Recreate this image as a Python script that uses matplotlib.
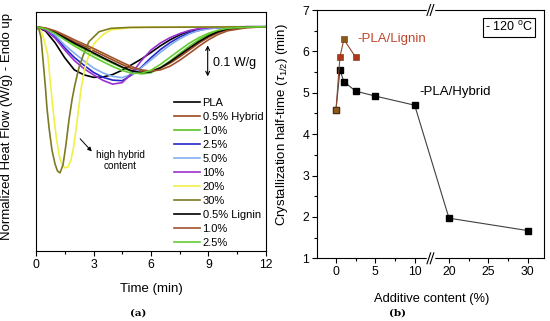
import numpy as np
import matplotlib.pyplot as plt

plt.rcParams['font.family'] = ['Liberation Sans', 'DejaVu Sans']
plt.rcParams['mathtext.fontset'] = 'custom'
plt.rcParams['mathtext.rm'] = 'Liberation Sans'
plt.rcParams['mathtext.it'] = 'Liberation Sans:italic'

# ---- (a) isothermal crystallization curves, W/g relative to baseline
t_grid = [0, 0.5, 1, 1.5, 2, 2.5, 3, 3.5, 4, 4.5, 5, 5.5, 6, 6.5, 7, 7.5, 8, 8.5, 9, 9.5, 10, 11, 12]

hf_pla = [0, -0.014, -0.052, -0.100, -0.139, -0.155, -0.163, -0.162, -0.154, -0.140, -0.122, -0.104,
          -0.083, -0.061, -0.042, -0.026, -0.014, -0.008, -0.004, -0.002, -0.001, 0, 0]
hf_h05 = [0, -0.005, -0.016, -0.032, -0.048, -0.062, -0.077, -0.092, -0.107, -0.122, -0.135, -0.143,
          -0.143, -0.133, -0.117, -0.097, -0.075, -0.053, -0.034, -0.019, -0.009, -0.002, 0]
hf_h10 = [0, -0.006, -0.020, -0.038, -0.056, -0.072, -0.088, -0.103, -0.118, -0.132, -0.145, -0.152,
          -0.148, -0.132, -0.110, -0.086, -0.063, -0.042, -0.025, -0.013, -0.006, -0.001, 0]
hf_h25 = [0, -0.009, -0.031, -0.068, -0.099, -0.124, -0.147, -0.163, -0.172, -0.174, -0.155, -0.130,
          -0.100, -0.073, -0.051, -0.033, -0.019, -0.012, -0.005, -0.003, -0.002, 0, 0]
hf_h50 = [0, -0.007, -0.027, -0.059, -0.085, -0.110, -0.133, -0.149, -0.160, -0.164, -0.153, -0.132,
          -0.107, -0.082, -0.059, -0.039, -0.023, -0.012, -0.007, -0.003, -0.001, 0, 0]
hf_h100 = [0, -0.011, -0.037, -0.075, -0.109, -0.135, -0.155, -0.173, -0.185, -0.180, -0.150, -0.109,
           -0.075, -0.052, -0.035, -0.022, -0.012, -0.006, -0.003, -0.001, 0, 0, 0]
hf_l05 = [0, -0.006, -0.019, -0.036, -0.053, -0.068, -0.084, -0.100, -0.115, -0.130, -0.142, -0.148,
          -0.145, -0.132, -0.113, -0.091, -0.069, -0.048, -0.030, -0.016, -0.007, -0.001, 0]
hf_l10 = [0, -0.004, -0.013, -0.027, -0.042, -0.056, -0.070, -0.085, -0.100, -0.115, -0.129, -0.139,
          -0.143, -0.139, -0.127, -0.108, -0.086, -0.063, -0.042, -0.025, -0.013, -0.003, 0]
hf_l25 = [0, -0.007, -0.022, -0.042, -0.062, -0.080, -0.097, -0.113, -0.128, -0.141, -0.150, -0.150,
          -0.140, -0.121, -0.098, -0.075, -0.053, -0.035, -0.021, -0.011, -0.005, -0.001, 0]

# fast curves (high hybrid content), own time points
t_h200 = [0, 0.26, 0.42, 0.61, 0.78, 0.89, 1.04, 1.20, 1.36, 1.51, 1.67, 1.83, 1.98, 2.14, 2.35,
          2.53, 2.70, 3.03, 3.48, 3.91, 4.90, 5.95, 12]
hf_h200 = [0, -0.013, -0.042, -0.090, -0.200, -0.268, -0.348, -0.413, -0.445, -0.455, -0.452, -0.429,
           -0.381, -0.306, -0.200, -0.139, -0.102, -0.054, -0.026, -0.010, -0.003, -0.001, 0]
t_h300 = [0, 0.16, 0.26, 0.34, 0.42, 0.50, 0.57, 0.68, 0.83, 0.99, 1.12, 1.25, 1.41, 1.56, 1.72,
          1.88, 2.03, 2.24, 2.45, 2.76, 3.29, 3.91, 4.90, 12]
hf_h300 = [0, -0.010, -0.035, -0.090, -0.145, -0.203, -0.261, -0.326, -0.397, -0.442, -0.465, -0.471,
           -0.445, -0.381, -0.300, -0.235, -0.187, -0.132, -0.094, -0.048, -0.016, -0.005, -0.002, 0]

labels_a = ['PLA', '0.5% Hybrid', '1.0%', '2.5%', '5.0%', '10%', '20%', '30%',
            '0.5% Lignin', '1.0%', '2.5%']

# ---- (b) half-time of crystallization
hyb_x = [0, 0.5, 1, 2.5, 5, 10, 20, 30]
hyb_t = [4.58, 5.55, 5.27, 5.04, 4.92, 4.70, 1.97, 1.67]
lig_x = [0, 0.5, 1, 2.5]
lig_t = [4.58, 5.86, 6.29, 5.86]

fig = plt.figure(figsize=(5.5, 3.21), dpi=100)

# ================= (a)
ax1 = fig.add_axes([0.0655, 0.218, 0.418, 0.745])
series = [
    (t_grid, hf_pla, 'black'),
    (t_grid, hf_h05, '#9a4a1c'),
    (t_grid, hf_h10, '#5cc424'),
    (t_grid, hf_h25, '#2626c8'),
    (t_grid, hf_h50, '#84aef0'),
    (t_grid, hf_h100, '#9b30d0'),
    (t_h200, hf_h200, '#f0f048'),
    (t_h300, hf_h300, '#7d7a22'),
    (t_grid, hf_l05, 'black'),
    (t_grid, hf_l10, '#a0522d'),
    (t_grid, hf_l25, '#66cc33'),
]
for (tx, hy, c), lab in zip(series, labels_a):
    ax1.plot(tx, hy, color=c, lw=1.2, label=lab)

ax1.set_xlim(0, 12)
ax1.set_ylim(-0.723, 0.048)
ax1.set_xticks([0, 3, 6, 9, 12])
ax1.set_xticks(np.arange(1.5, 12, 3), minor=True)
ax1.set_yticks([])
ax1.tick_params(axis='x', direction='out', length=3.5, width=0.8, labelsize=8.8, pad=2)
ax1.tick_params(axis='x', which='minor', direction='out', length=2, width=0.8)
ax1.set_xlabel('Time (min)', fontsize=9.5)
ax1.xaxis.set_label_coords(0.5, -0.134)
ax1.set_ylabel('Normalized Heat Flow (W/g) - Endo up', fontsize=9.5)
ax1.yaxis.set_label_coords(-0.10, 0.52)

# scale bar
ax1.annotate('', xy=(8.96, -0.16), xytext=(8.96, -0.06),
             arrowprops=dict(arrowstyle='<->', color='black', lw=0.8,
                             shrinkA=0, shrinkB=0, mutation_scale=7))
ax1.text(9.22, -0.116, '0.1 W/g', fontsize=9, va='center', ha='left')

# annotation for fast curves
ax1.annotate('', xy=(2.91, -0.402), xytext=(2.30, -0.361),
             arrowprops=dict(arrowstyle='-|>', color='black', lw=0.7,
                             shrinkA=0, shrinkB=0, mutation_scale=6))
ax1.text(4.38, -0.432, 'high hybrid\ncontent', fontsize=7.2, ha='center', va='center',
         linespacing=1.1)

ax1.legend(loc='lower right', bbox_to_anchor=(1.0, 0.0), frameon=False, fontsize=8,
           handlelength=2.3, handletextpad=0.25, labelspacing=0.36, borderaxespad=0.15,
           borderpad=0.1)

# ================= (b)  broken x-axis: 12..17.6 removed
gap = 5.64


def brk(x):
    x = np.asarray(x, dtype=float)
    return np.where(x >= 15, x - gap, x)


ax2 = fig.add_axes([0.5758, 0.1953, 0.4138, 0.7735])
ax2.plot(brk(hyb_x), hyb_t, '-', color='#404040', lw=0.8, zorder=2)
ax2.plot(brk(hyb_x), hyb_t, 's', color='black', ms=4.3, zorder=3)
ax2.plot(brk(lig_x), lig_t, '-', color='#8a4a30', lw=0.8, zorder=4)
ax2.scatter(brk(lig_x), lig_t, marker='s', s=18, zorder=5,
            c=['#8b5a1a', '#b0381a', '#8b5a1a', '#b0381a'], edgecolors='#6a2a10', linewidths=0.4)

ax2.set_xlim(-2.45, 26.47)
ax2.set_ylim(1, 7)
xt = [0, 5, 10, 20, 25, 30]
ax2.set_xticks(brk(xt))
ax2.set_xticklabels([str(v) for v in xt])
ax2.set_xticks(brk([2.5, 7.5, 22.5, 27.5]), minor=True)
ax2.set_yticks(range(1, 8))
ax2.set_yticks(np.arange(1.5, 7, 1), minor=True)
ax2.tick_params(direction='out', length=3.5, width=0.8, labelsize=8.8, pad=2)
ax2.tick_params(which='minor', direction='out', length=2, width=0.8)
ax2.set_xlabel('Additive content (%)', fontsize=9.3)
ax2.xaxis.set_label_coords(0.505, -0.1385)
ax2.set_ylabel(r'Crystallization half-time ($\tau_{1/2}$) (min)', fontsize=9.5)
ax2.yaxis.set_label_coords(-0.117, 0.54)

# break marks
bx = (brk(12.0) + 2.45) / (26.47 + 2.45)
for yb in (0.0, 1.0):
    ax2.plot([bx - 0.012, bx + 0.012], [yb, yb], color='white', lw=2.5,
             transform=ax2.transAxes, clip_on=False, zorder=6)
    for dx in (-0.007, 0.007):
        ax2.plot([bx + dx - 0.008, bx + dx + 0.008], [yb - 0.022, yb + 0.022], color='black',
                 lw=0.8, transform=ax2.transAxes, clip_on=False, zorder=7)

ax2.text(2.67, 6.29, '-PLA/Lignin', color='#c0462c', fontsize=9.5, va='center', ha='left')
ax2.text(10.55, 5.03, '-PLA/Hybrid', color='black', fontsize=9.5, va='center', ha='left')
ax2.text(0.845, 0.9315, r'- 120 $^{\mathrm{o}}$C', transform=ax2.transAxes, fontsize=9,
         ha='center', va='center',
         bbox=dict(boxstyle='square,pad=0.2', fc='white', ec='black', lw=0.8))

fig.text(138 / 550, 1 - 313 / 321, '(a)', family='DejaVu Serif', fontweight='bold',
         fontsize=7.5, ha='center', va='center')
fig.text(398 / 550, 1 - 313 / 321, '(b)', family='DejaVu Serif', fontweight='bold',
         fontsize=7.5, ha='center', va='center')

fig.savefig('out.png', dpi=100)
